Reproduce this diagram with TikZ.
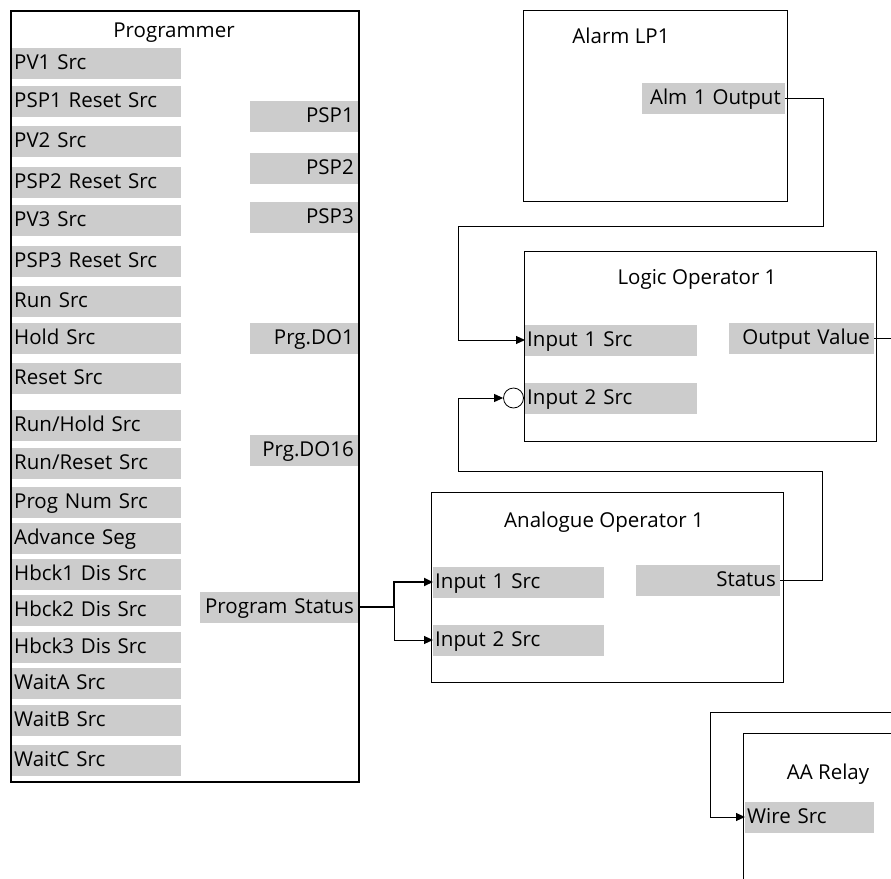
\documentclass[tikz,border=0pt]{standalone}
\usepackage{fontspec}
\setmainfont{Open Sans}
\usetikzlibrary{arrows.meta,positioning}

\begin{document}
\begin{tikzpicture}[
  x=1pt, y=-1pt,
  font=\fontsize{20.5}{24}\selectfont,
  block/.style={draw, line width=1pt, anchor=north west, inner sep=0pt},
  title/.style={anchor=base, inner sep=0pt},
  port/.style={fill=gray!40, inner ysep=0pt, minimum height=31pt, text height=16pt, text depth=3.4pt},
  inport/.style={port, anchor=west, text width=#1, align=left, inner xsep=2pt},
  outport/.style={port, anchor=east, text width=#1, align=right, inner xsep=4pt},
  arrow/.style={-{Triangle[length=9pt,width=8pt]}, line width=1pt}
]
\useasboundingbox (0,0) rectangle (891,878);
\clip (0,0) rectangle (891,878);

% blocks
\node[block, line width=2pt, minimum width=348pt, minimum height=771pt] (prog) at (10,10) {};
\node[block, minimum width=264pt, minimum height=191pt] (alarm) at (523,10) {};
\node[block, minimum width=352pt, minimum height=190pt] (logic) at (524,251) {};
\node[block, minimum width=352pt, minimum height=190pt] (anlg) at (431,492) {};
\node[block, minimum width=200pt, minimum height=200pt] (relay) at (743,733) {};

\node[title] (progtitle) at (174,37) {Programmer};
\node[title] (alarmtitle) at (621,43) {Alarm LP1};
\node[title] (logictitle) at (697,284) {Logic Operator 1};
\node[title] (anlgtitle) at (604,527) {Analogue Operator 1};
\node[title] (relaytitle) at (828,779) {AA Relay};

% programmer inputs
\foreach \y/\nm/\txt in {63/pv1/{PV1 Src}, 101/psp1rst/{PSP1 Reset Src}, 141/pv2/{PV2 Src},
    182/psp2rst/{PSP2 Reset Src}, 220/pv3/{PV3 Src}, 261/psp3rst/{PSP3 Reset Src},
    301/run/{Run Src}, 338/hold/{Hold Src}, 378/reset/{Reset Src},
    425/runhold/{Run/Hold Src}, 463/runreset/{Run/Reset Src}, 502/prognum/{Prog Num Src},
    538/advseg/{Advance Seg}, 574/hbck1/{Hbck1 Dis Src}, 610/hbck2/{Hbck2 Dis Src},
    647/hbck3/{Hbck3 Dis Src}, 683/waita/{WaitA Src}, 720/waitb/{WaitB Src},
    760/waitc/{WaitC Src}}
  \node[inport=165pt] (\nm) at (12,\y) {\txt};

% programmer outputs
\foreach \y/\nm/\txt in {116/psp1/PSP1, 168/psp2/PSP2, 217/psp3/PSP3,
    338/prgdo1/Prg.DO1, 450/prgdo16/Prg.DO16}
  \node[outport=100pt] (\nm) at (358,\y) {\txt};
\node[outport=150pt] (pstat) at (358,607) {Program Status};

% other ports
\node[outport=135pt] (alm) at (785,98) {Alm 1 Output};
\node[inport=168pt] (lin1) at (525,340) {Input 1 Src};
\node[inport=168pt] (lin2) at (525,398) {Input 2 Src};
\node[outport=137pt] (lout) at (874,338) {Output Value};
\node[draw, circle, line width=0.8pt, minimum size=20pt, inner sep=0pt] (inv) at (513.5,398) {};
\node[inport=167pt] (ain1) at (433,582) {Input 1 Src};
\node[inport=167pt] (ain2) at (433,640) {Input 2 Src};
\node[outport=136pt] (stat) at (780,580) {Status};
\node[inport=125pt] (wire) at (745,817) {Wire Src};

\coordinate (loutend) at (895,338);
\coordinate (feed) at (895,712);

% connections
\draw[arrow] (alm.east) -- ++(38,0) -- ++(0,128) -| ([xshift=-67pt]lin1.west) -- (lin1.west);
\draw[arrow] (stat.east) -- ++(42,0) |- ++(-364,-109) |- (inv.west);
\draw[line width=1pt] (lout.east) -- (loutend);
\draw[line width=2pt] (pstat.east) -- ++(36,0) coordinate (split);
\draw[arrow, line width=2pt] (split) |- (ain1.west);
\draw[arrow] (split) |- (ain2.west);
\draw[arrow] (feed) -| ([xshift=-35pt]wire.west) -- (wire.west);
\end{tikzpicture}
\end{document}
